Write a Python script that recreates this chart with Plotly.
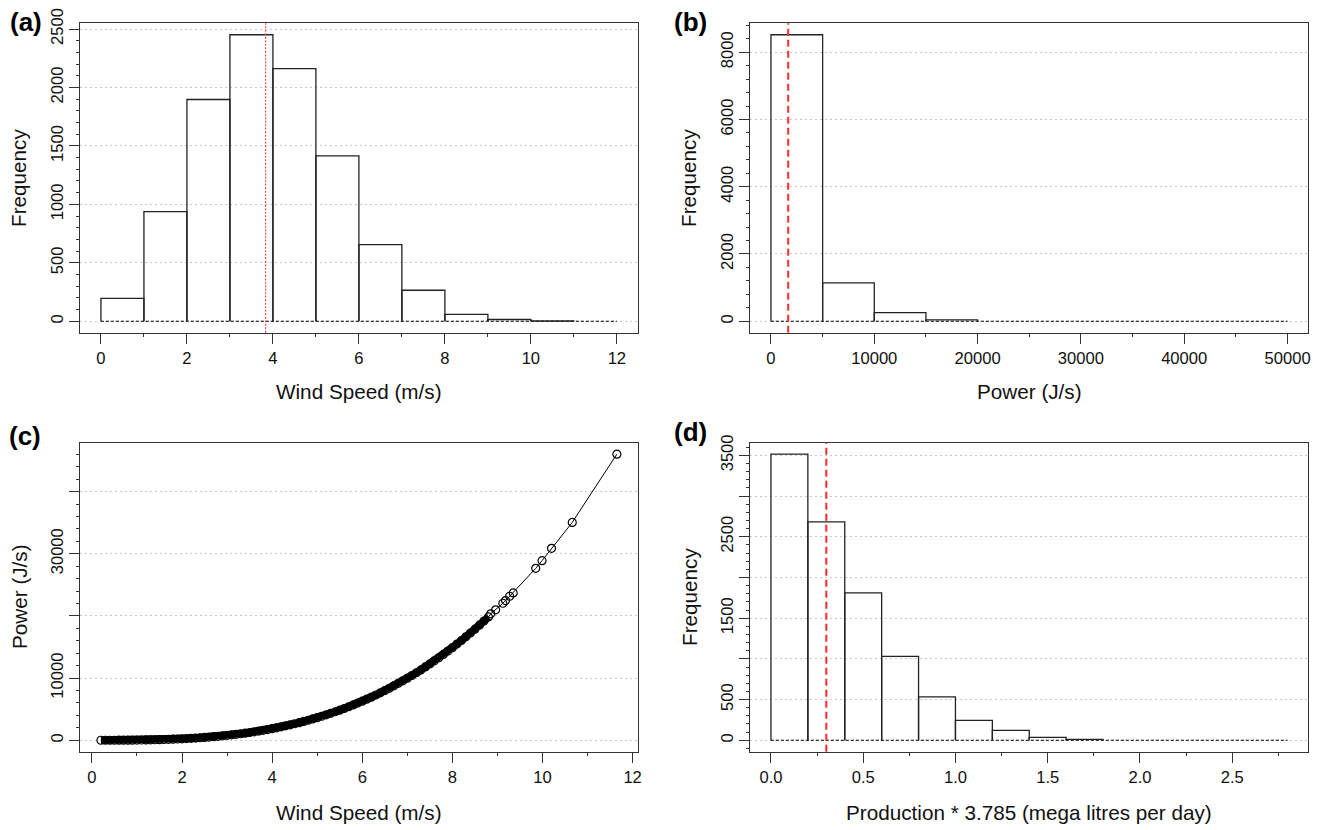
import plotly.graph_objects as go

# ---------------- data ----------------
speed_breaks = [0, 1, 2, 3, 4, 5, 6, 7, 8, 9, 10, 11, 12]
speed_counts = [195, 937, 1897, 2451, 2161, 1414, 656, 265, 58, 15, 2, 0]
speed_mean = 3.83

power_breaks = [0, 5000, 10000, 15000, 20000, 25000, 30000, 35000, 40000, 45000, 50000]
power_counts = [8520, 1140, 258, 40, 0, 0, 0, 0, 0, 0]
power_mean = 1670

prod_breaks = [0.0, 0.2, 0.4, 0.6, 0.8, 1.0, 1.2, 1.4, 1.6, 1.8, 2.0, 2.2, 2.4, 2.6, 2.8]
prod_counts = [3515, 2683, 1810, 1030, 532, 245, 122, 36, 12, 0, 0, 0, 0, 0]
prod_mean = 0.30

curve_speed = [0.2, 0.3, 0.4, 0.5, 0.6, 0.7, 0.8, 0.9, 1.0, 1.1, 1.2, 1.3, 1.4, 1.5,
               1.6, 1.7, 1.8, 1.9, 2.0, 2.1, 2.2, 2.3, 2.4, 2.5, 2.6, 2.7, 2.8, 2.9,
               3.0, 3.1, 3.2, 3.3, 3.4, 3.5, 3.6, 3.7, 3.8, 3.9, 4.0, 4.1, 4.2, 4.3,
               4.4, 4.5, 4.6, 4.7, 4.8, 4.9, 5.0, 5.1, 5.2, 5.3, 5.4, 5.5, 5.6, 5.7,
               5.8, 5.9, 6.0, 6.1, 6.2, 6.3, 6.4, 6.5, 6.6, 6.7, 6.8, 6.9, 7.0, 7.1,
               7.2, 7.3, 7.4, 7.5, 7.6, 7.7, 7.8, 7.9, 8.0, 8.1, 8.2, 8.3, 8.4, 8.5,
               8.6, 8.7, 8.8, 8.85, 8.96, 9.12, 9.18, 9.27, 9.35, 9.85, 9.99, 10.20, 10.66,
               11.65]
curve_power = [0.2, 0.8, 1.9, 3.6, 6.3, 10, 15, 21, 29, 39, 50, 64, 80, 98,
               119, 143, 170, 200, 233, 270, 310, 354, 402, 455, 512, 573, 639, 710,
               786, 867, 954, 1046, 1144, 1248, 1358, 1474, 1597, 1726, 1862, 2006, 2156, 2314,
               2479, 2652, 2833, 3021, 3218, 3424, 3638, 3860, 4092, 4332, 4582, 4842, 5110, 5389,
               5678, 5977, 6286, 6605, 6935, 7276, 7628, 7992, 8366, 8752, 9150, 9560, 9981, 10415,
               10862, 11320, 11792, 12277, 12774, 13285, 13810, 14347, 14899, 15465, 16045, 16639, 17248, 17871,
               18509, 19162, 19830, 20330, 20980, 22040, 22470, 23160, 23700, 27650, 28890, 30870, 35040,
               46020]
dense_until = 8.8  # the observations overlap into a solid band up to this speed

# ---------------- helpers ----------------
W, H = 1324, 830
FONT = "Liberation Sans, Arial, sans-serif"
AX = "#333333"


def px(x):
    return x / W


def py(y):
    return 1 - y / H


def r_range(lo, hi):
    d = hi - lo
    return [lo - 0.04 * d, hi + 0.04 * d]


def outline(breaks, counts):
    xs, ys = [], []
    for i, c in enumerate(counts):
        if c <= 0:
            continue
        l, r = breaks[i], breaks[i + 1]
        xs += [l, l, r, r, None]
        ys += [0, c, c, 0, None]
    return xs, ys


fig = go.Figure()

hists = [
    (speed_breaks, speed_counts, "x", "y"),
    (power_breaks, power_counts, "x2", "y2"),
    (prod_breaks, prod_counts, "x4", "y4"),
]
for br, ct, xa, ya in hists:
    fig.add_trace(go.Scatter(x=[br[0], br[-1]], y=[0, 0], mode="lines",
                             line=dict(color="black", width=1, dash="3px,2px"),
                             xaxis=xa, yaxis=ya, hoverinfo="skip", showlegend=False))
    xs, ys = outline(br, ct)
    fig.add_trace(go.Scatter(x=xs, y=ys, mode="lines",
                             line=dict(color="#222222", width=1.3),
                             xaxis=xa, yaxis=ya, hoverinfo="skip", showlegend=False))

# dense part of the power curve: overlapping circles form a solid band
dense_x = [v for v in curve_speed if v <= dense_until]
dense_y = [p for v, p in zip(curve_speed, curve_power) if v <= dense_until]
fig.add_trace(go.Scatter(x=dense_x, y=dense_y, mode="lines",
                         line=dict(color="black", width=7.5),
                         xaxis="x3", yaxis="y3", hoverinfo="skip", showlegend=False))
fig.add_trace(go.Scatter(x=curve_speed, y=curve_power, mode="lines+markers",
                         line=dict(color="black", width=1),
                         marker=dict(symbol="circle-open", size=8, color="black",
                                     line=dict(width=1.2, color="black")),
                         xaxis="x3", yaxis="y3", hoverinfo="skip", showlegend=False))

# mean lines
fig.add_shape(type="line", xref="x", yref="y domain", x0=speed_mean, x1=speed_mean, y0=0, y1=1,
              line=dict(color="#ff4a4a", width=1.2, dash="2px,1.5px"))
fig.add_shape(type="line", xref="x2", yref="y2 domain", x0=power_mean, x1=power_mean, y0=0, y1=1,
              line=dict(color="#ff2a2a", width=2, dash="7px,4px"))
fig.add_shape(type="line", xref="x4", yref="y4 domain", x0=prod_mean, x1=prod_mean, y0=0, y1=1,
              line=dict(color="#ff2a2a", width=2, dash="7px,4px"))

tickfont = dict(family=FONT, size=16.6, color="#111111")
base = dict(showline=True, mirror=True, linecolor=AX, linewidth=1,
            ticks="outside", ticklen=10, tickwidth=1, tickcolor=AX,
            tickfont=tickfont, zeroline=False, fixedrange=True, automargin=False)


def xaxis(domain, anchor, rng, tick0, dtick, mdtick, fmt):
    return dict(base, domain=domain, anchor=anchor, range=rng, showgrid=False,
                tickmode="linear", tick0=tick0, dtick=dtick, tickformat=fmt,
                minor=dict(ticks="outside", ticklen=3.5, tickwidth=1, tickcolor=AX,
                           tickmode="linear", tick0=tick0, dtick=mdtick, showgrid=False))


def yaxis(domain, anchor, rng, vals, texts, mdtick):
    return dict(base, domain=domain, anchor=anchor, range=rng, showgrid=True,
                gridcolor="#c8c8c8", griddash="2px,3px", gridwidth=1,
                tickmode="array", tickvals=vals, ticktext=texts, tickangle=-90,
                minor=dict(ticks="outside", ticklen=3.5, tickwidth=1, tickcolor=AX,
                           tickmode="linear", tick0=0, dtick=mdtick, showgrid=False))


XL = [px(80.3), px(637.5)]
XR = [px(750.3), px(1308.2)]
YT = [py(332.7), py(23.3)]
YB = [py(751.7), py(442.7)]

fig.update_layout(
    template="none",
    width=W, height=H, margin=dict(l=0, r=0, t=0, b=0, pad=0, autoexpand=False),
    paper_bgcolor="white", plot_bgcolor="white", showlegend=False,
    hovermode=False,
    xaxis=xaxis(XL, "y", r_range(speed_breaks[0], speed_breaks[-1]), 0, 2, 1, "d"),
    yaxis=yaxis(YT, "x", r_range(0, max(speed_counts)),
                [0, 500, 1000, 1500, 2000, 2500], ["0", "500", "1000", "1500", "2000", "2500"], 100),
    xaxis2=xaxis(XR, "y2", r_range(power_breaks[0], power_breaks[-1]), 0, 10000, 5000, "d"),
    yaxis2=yaxis(YT, "x2", r_range(0, max(power_counts)),
                 [0, 2000, 4000, 6000, 8000], ["0", "2000", "4000", "6000", "8000"], 400),
    xaxis3=xaxis(XL, "y3", r_range(min(curve_speed), max(curve_speed)), 0, 2, 1, "d"),
    yaxis3=yaxis(YB, "x3", r_range(min(curve_power), max(curve_power)),
                 [0, 10000, 20000, 30000, 40000], ["0", "10000", "", "30000", ""], 2000),
    xaxis4=xaxis(XR, "y4", r_range(prod_breaks[0], prod_breaks[-1]), 0, 0.5, 0.25, ".1f"),
    yaxis4=yaxis(YB, "x4", r_range(0, max(prod_counts)),
                 [0, 500, 1000, 1500, 2000, 2500, 3000, 3500],
                 ["0", "500", "", "1500", "", "2500", "", "3500"], 100),
)

title_font = dict(family=FONT, size=20.7, color="#111111")
label_font = dict(family=FONT, size=26, color="black")
ann = []
for txt, cx, cy in [("Wind Speed (m/s)", (80.3 + 637.5) / 2, 392),
                    ("Power (J/s)", (750.3 + 1308.2) / 2, 392),
                    ("Wind Speed (m/s)", (80.3 + 637.5) / 2, 812),
                    ("Production * 3.785 (mega litres per day)", (750.3 + 1308.2) / 2, 812)]:
    ann.append(dict(text=txt, x=px(cx), y=py(cy), xref="paper", yref="paper",
                    xanchor="center", yanchor="middle", showarrow=False, font=title_font))
for txt, cx, cy in [("Frequency", 19, 178), ("Frequency", 689, 178),
                    ("Power (J/s)", 19, 597), ("Frequency", 689, 597)]:
    ann.append(dict(text=txt, x=px(cx), y=py(cy), xref="paper", yref="paper",
                    xanchor="center", yanchor="middle", showarrow=False, textangle=-90,
                    font=title_font))
for txt, cx, cy in [("(a)", 25.5, 22), ("(b)", 691, 22), ("(c)", 25, 436), ("(d)", 691, 432)]:
    ann.append(dict(text="<b>" + txt + "</b>", x=px(cx), y=py(cy), xref="paper", yref="paper",
                    xanchor="center", yanchor="middle", showarrow=False, font=label_font))
fig.update_layout(annotations=ann)

fig.write_html("out.html", config={"displayModeBar": False},
               post_script="document.body.style.margin='0px';document.body.style.overflow='hidden';")
